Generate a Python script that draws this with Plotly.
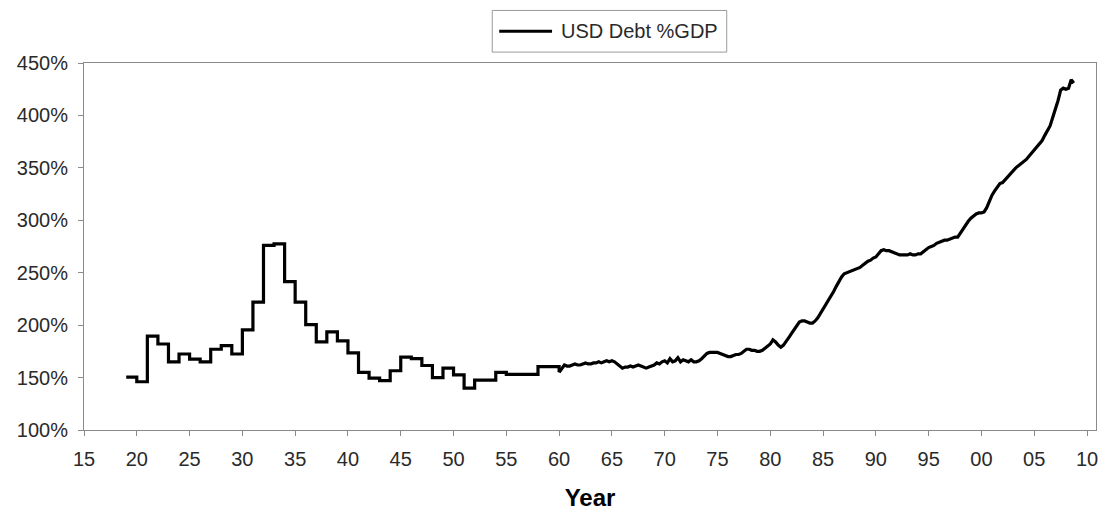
import plotly.graph_objects as go

# Annual readings, 1919-1959 (debt as % of GDP)
annual_years = list(range(1919, 1960))
annual_debt = [
    150.5, 146, 189.5, 182, 165, 172.5, 167.5, 165, 177, 180.5,   # 1919-1928
    172.5, 195.5, 222, 276, 277.5, 241.5, 222, 200.5, 184, 193.5,  # 1929-1938
    185, 173.5, 155, 149.5, 147, 156.5, 169.5, 168, 161.5, 150,    # 1939-1948
    159, 152.5, 140, 147.5, 147.5, 155, 153, 153, 153, 160.5,      # 1949-1958
    160.5,                                                         # 1959
]

# Quarterly readings, 1960 Q1 - 2008 Q4
quarterly_debt = [
    155, 159, 162, 161,  # 1960
    161, 162, 163, 162,  # 1961
    162, 163, 164, 163,  # 1962
    163, 164, 164, 165,  # 1963
    164, 165, 166, 165,  # 1964
    166, 165, 163, 161,  # 1965
    159, 160, 160, 161,  # 1966
    160, 161, 162, 161,  # 1967
    160, 159, 160, 161,  # 1968
    162, 164, 163, 165,  # 1969
    166, 164, 168, 165,  # 1970
    166, 169, 165, 167,  # 1971
    166, 165, 167, 165,  # 1972
    165, 166, 168, 171,  # 1973
    173, 174, 174, 174,  # 1974
    174, 173, 172, 171,  # 1975
    170, 170, 171, 172,  # 1976
    172, 173, 175, 177,  # 1977
    177, 176, 176, 175,  # 1978
    175, 176, 178, 180,  # 1979
    182, 186, 184, 181,  # 1980
    179, 181, 184, 188,  # 1981
    192, 196, 199, 203,  # 1982
    204, 204, 203, 202,  # 1983
    202, 204, 207, 211,  # 1984
    215, 219, 223, 227,  # 1985
    232, 237, 242, 246,  # 1986
    249, 250, 251, 252,  # 1987
    253, 254, 255, 257,  # 1988
    259, 261, 262, 264,  # 1989
    265, 268, 271, 272,  # 1990
    271, 271, 270, 269,  # 1991
    268, 267, 267, 267,  # 1992
    267, 268, 267, 267,  # 1993
    268, 268, 270, 272,  # 1994
    274, 275, 276, 278,  # 1995
    279, 280, 281, 281,  # 1996
    282, 283, 284, 284,  # 1997
    288, 292, 296, 299,  # 1998
    302, 304, 306, 307,  # 1999
    307, 308, 312, 318,  # 2000
    324, 328, 332, 335,  # 2001
    336, 339, 342, 345,  # 2002
    348, 350, 352, 354,  # 2003
    356, 358, 361, 364,  # 2004
    368, 371, 373, 376,  # 2005
    381, 386, 390, 398,  # 2006
    405, 414, 424, 426,  # 2007
    425, 426, 434, 431,  # 2008
]
quarter_years = [yr + q / 4 for yr in range(1960, 2009) for q in range(4)]

x_ticks = list(range(1915, 2011, 5))
x_tick_labels = [f"{t % 100:02d}" for t in x_ticks]
y_ticks = list(range(100, 451, 50))

series_name = "USD Debt %GDP"

font_family = "Liberation Sans, Arial, sans-serif"
axis_grey = "#8a8a8a"
text_grey = "#2a2a2a"
line_style = dict(color="#000000", width=3.2)

fig = go.Figure()
# Annual part drawn as steps, running into the first quarterly reading
fig.add_trace(go.Scatter(
    x=annual_years + quarter_years[:1],
    y=annual_debt + quarterly_debt[:1],
    mode="lines",
    line=dict(**line_style, shape="hv"),
    name=series_name,
    showlegend=False,
))
# Quarterly part joined point to point
fig.add_trace(go.Scatter(
    x=quarter_years,
    y=quarterly_debt,
    mode="lines",
    line=dict(**line_style, shape="linear"),
    name=series_name,
    showlegend=False,
))

# Boxed legend above the plot area
fig.add_shape(type="rect", xref="paper", yref="paper",
              x0=0.4034, x1=0.6351, y0=1.0297, y1=1.1432,
              line=dict(color="#9a9a9a", width=1), fillcolor="#ffffff")
fig.add_shape(type="line", xref="paper", yref="paper",
              x0=0.4103, x1=0.4625, y0=1.0865, y1=1.0865,
              line=dict(color="#000000", width=3.2))
fig.add_annotation(xref="paper", yref="paper", x=0.4694, y=1.0865,
                   xanchor="left", yanchor="middle", showarrow=False,
                   text=series_name,
                   font=dict(family=font_family, size=20, color=text_grey))

fig.update_layout(
    width=1104,
    height=513,
    margin=dict(l=84, r=6, t=63, b=80),
    paper_bgcolor="#ffffff",
    plot_bgcolor="#ffffff",
    font=dict(family=font_family, size=20, color=text_grey),
    xaxis=dict(
        range=[1915, 2010.85],
        tickmode="array",
        tickvals=x_ticks,
        ticktext=x_tick_labels,
        ticks="outside",
        ticklen=5,
        tickcolor=axis_grey,
        ticklabelstandoff=6,
        showline=True,
        linecolor=axis_grey,
        linewidth=1,
        mirror=True,
        showgrid=False,
        zeroline=False,
        tickfont=dict(size=20, color=text_grey),
        title=dict(
            text="<b>Year</b>",
            font=dict(family=font_family, size=24, color="#000000"),
            standoff=20,
        ),
    ),
    yaxis=dict(
        range=[100, 450],
        tickmode="array",
        tickvals=y_ticks,
        ticktext=[f"{v}%" for v in y_ticks],
        ticks="outside",
        ticklen=5,
        tickcolor=axis_grey,
        ticklabelstandoff=6,
        showline=True,
        linecolor=axis_grey,
        linewidth=1,
        mirror=True,
        showgrid=False,
        zeroline=False,
        tickfont=dict(size=20, color=text_grey),
    ),
)

fig.write_html("out.html")
